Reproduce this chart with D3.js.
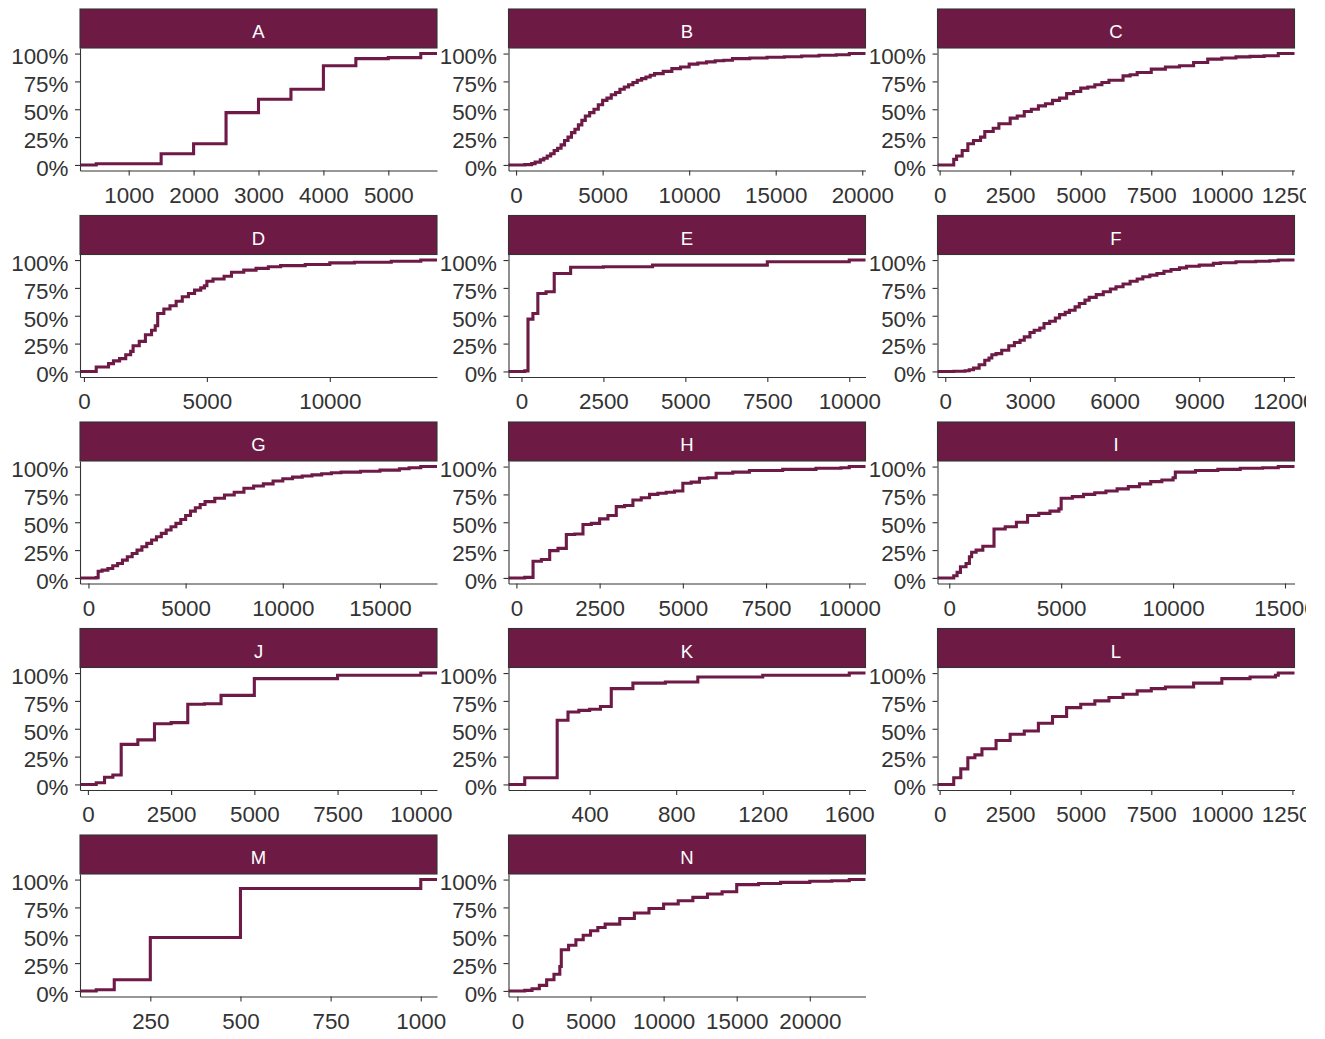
<!DOCTYPE html>
<html>
<head>
<meta charset="utf-8">
<script src="https://cdn.jsdelivr.net/npm/d3@7"></script>
<style>
  body { margin: 0; background: #ffffff; }
  svg { display: block; }
</style>
</head>
<body>
<script>
// Facet labels, in drawing order (3 columns)
const panelNames = ["A","B","C","D","E","F","G","H","I","J","K","L","M","N"];

// Empirical CDF steps per facet: [value, cumulative share after the step]
const ecdfA = [[500,0.01],[1500,0.10],[2000,0.19],[2500,0.47],[3000,0.59],[3500,0.68],[4000,0.89],[4500,0.955],[5000,0.964],[5500,1]];
const ecdfB = [[500,0.003],[900,0.012],[1100,0.025],[1400,0.045],[1600,0.06],[1800,0.08],[2000,0.10],[2200,0.13],[2400,0.15],[2600,0.18],[2800,0.22],[3000,0.25],[3200,0.29],[3400,0.32],[3600,0.36],[3800,0.40],[4000,0.44],[4250,0.47],[4500,0.50],[4750,0.54],[5000,0.58],[5250,0.60],[5500,0.63],[5750,0.65],[6000,0.68],[6250,0.70],[6500,0.72],[6750,0.74],[7000,0.76],[7250,0.775],[7500,0.79],[7750,0.805],[8000,0.82],[8500,0.84],[9000,0.865],[9500,0.88],[10000,0.905],[10500,0.915],[11000,0.925],[11500,0.935],[12000,0.94],[12500,0.955],[13500,0.96],[14500,0.967],[15500,0.972],[16500,0.978],[17500,0.985],[18500,0.99],[19250,1]];
const ecdfC = [[500,0.05],[600,0.08],[800,0.13],[1000,0.19],[1200,0.22],[1450,0.25],[1600,0.30],[1900,0.33],[2100,0.37],[2500,0.42],[2750,0.44],[3000,0.48],[3250,0.50],[3500,0.53],[3750,0.55],[4000,0.58],[4250,0.60],[4500,0.64],[4750,0.66],[5000,0.69],[5250,0.70],[5500,0.72],[5750,0.74],[6000,0.76],[6500,0.80],[6750,0.81],[7000,0.83],[7500,0.86],[8000,0.88],[8500,0.89],[9000,0.92],[9500,0.95],[10000,0.96],[10500,0.97],[11000,0.975],[11500,0.98],[12000,1]];
const ecdfD = [[500,0.04],[1000,0.07],[1200,0.095],[1450,0.115],[1700,0.15],[1900,0.18],[2000,0.23],[2250,0.27],[2500,0.33],[2750,0.37],[2900,0.41],[3000,0.52],[3250,0.56],[3500,0.59],[3750,0.63],[4000,0.67],[4250,0.70],[4500,0.73],[4750,0.75],[4900,0.77],[5000,0.81],[5250,0.83],[5700,0.855],[6000,0.89],[6500,0.91],[7000,0.925],[7500,0.94],[8000,0.95],[9000,0.96],[10000,0.975],[11000,0.98],[12500,0.99],[13700,1]];
const ecdfE = [[100,0.005],[200,0.47],[350,0.52],[500,0.70],[750,0.715],[1000,0.88],[1500,0.935],[2500,0.94],[4000,0.955],[7500,0.985],[10000,1]];
const ecdfF = [[300,0.002],[700,0.006],[850,0.015],[1000,0.03],[1200,0.06],[1400,0.10],[1550,0.12],[1650,0.15],[1800,0.16],[2000,0.19],[2250,0.23],[2450,0.26],[2650,0.28],[2800,0.31],[3000,0.35],[3150,0.37],[3350,0.39],[3500,0.43],[3700,0.45],[3900,0.48],[4050,0.51],[4250,0.53],[4400,0.55],[4600,0.58],[4750,0.61],[4950,0.64],[5100,0.665],[5350,0.69],[5600,0.715],[5850,0.74],[6050,0.76],[6300,0.785],[6550,0.81],[6800,0.83],[7000,0.85],[7250,0.865],[7500,0.88],[7750,0.90],[8000,0.915],[8300,0.93],[8550,0.945],[9000,0.955],[9500,0.97],[9750,0.976],[10300,0.985],[11000,0.99],[11500,0.994],[11800,1]];
const ecdfG = [[400,0.003],[500,0.06],[700,0.07],[1000,0.085],[1250,0.11],[1500,0.13],[1750,0.16],[2000,0.19],[2250,0.22],[2500,0.25],[2750,0.28],[3000,0.31],[3250,0.34],[3500,0.37],[3750,0.40],[4000,0.43],[4250,0.46],[4500,0.49],[4750,0.525],[5000,0.56],[5250,0.60],[5500,0.63],[5750,0.66],[6000,0.685],[6500,0.715],[7000,0.745],[7500,0.77],[8000,0.805],[8500,0.825],[9000,0.845],[9500,0.87],[10000,0.89],[10500,0.905],[11000,0.915],[11500,0.925],[12000,0.935],[12500,0.945],[13000,0.95],[14000,0.958],[15000,0.968],[16000,0.98],[16500,0.99],[17100,1]];
const ecdfH = [[250,0.005],[500,0.15],[750,0.165],[1000,0.245],[1250,0.265],[1500,0.39],[1750,0.395],[2000,0.48],[2250,0.49],[2500,0.53],[2750,0.56],[3000,0.64],[3250,0.65],[3500,0.70],[3750,0.72],[4000,0.75],[4250,0.76],[4500,0.77],[4750,0.78],[5000,0.85],[5250,0.86],[5500,0.895],[5750,0.90],[6000,0.94],[6500,0.95],[7000,0.965],[8000,0.975],[9000,0.985],[9750,0.99],[10000,1]];
const ecdfI = [[200,0.02],[350,0.05],[500,0.10],[750,0.13],[900,0.19],[1000,0.23],[1200,0.25],[1500,0.285],[2000,0.44],[2500,0.46],[3000,0.50],[3500,0.56],[4000,0.58],[4500,0.60],[4900,0.62],[5000,0.715],[5500,0.73],[6000,0.75],[6500,0.765],[7000,0.78],[7500,0.80],[8000,0.82],[8500,0.845],[9000,0.865],[9500,0.88],[10000,0.90],[10100,0.95],[11000,0.965],[12000,0.975],[13000,0.985],[14000,0.99],[14700,1]];
const ecdfJ = [[250,0.015],[500,0.065],[750,0.085],[1000,0.36],[1500,0.40],[2000,0.545],[2500,0.555],[3000,0.72],[3500,0.725],[4000,0.80],[5000,0.95],[7500,0.98],[10000,1]];
const ecdfK = [[100,0.06],[250,0.576],[300,0.65],[350,0.665],[400,0.675],[450,0.70],[500,0.86],[600,0.91],[750,0.92],[900,0.965],[1200,0.98],[1600,1]];
const ecdfL = [[500,0.06],[750,0.14],[1000,0.24],[1250,0.265],[1500,0.32],[2000,0.395],[2500,0.45],[3000,0.48],[3500,0.55],[4000,0.61],[4500,0.69],[5000,0.72],[5500,0.75],[6000,0.78],[6500,0.81],[7000,0.84],[7500,0.86],[8000,0.875],[9000,0.91],[10000,0.95],[11000,0.965],[11900,0.98],[12000,1]];
const ecdfM = [[100,0.01],[150,0.10],[250,0.48],[500,0.92],[1000,1]];
const ecdfN = [[500,0.005],[1000,0.02],[1500,0.05],[2000,0.10],[2500,0.15],[2900,0.22],[3000,0.37],[3500,0.41],[4000,0.46],[4500,0.50],[5000,0.54],[5500,0.57],[6000,0.60],[7000,0.65],[8000,0.70],[9000,0.74],[10000,0.78],[11000,0.81],[12000,0.84],[13000,0.87],[14000,0.89],[15000,0.955],[16500,0.965],[18000,0.975],[20000,0.985],[21500,0.99],[22700,1]];

// Horizontal tick values per facet (free x scales)
const xTicksA = [1000,2000,3000,4000,5000];
const xTicksB = [0,5000,10000,15000,20000];
const xTicksC = [0,2500,5000,7500,10000,12500];
const xTicksD = [0,5000,10000];
const xTicksE = [0,2500,5000,7500,10000];
const xTicksF = [0,3000,6000,9000,12000];
const xTicksG = [0,5000,10000,15000];
const xTicksH = [0,2500,5000,7500,10000];
const xTicksI = [0,5000,10000,15000];
const xTicksJ = [0,2500,5000,7500,10000];
const xTicksK = [400,800,1200,1600];
const xTicksL = [0,2500,5000,7500,10000,12500];
const xTicksM = [250,500,750,1000];
const xTicksN = [0,5000,10000,15000,20000];

// Shared vertical ticks (shares)
const yTicks = [0, 0.25, 0.5, 0.75, 1];

const stepSets = [ecdfA,ecdfB,ecdfC,ecdfD,ecdfE,ecdfF,ecdfG,ecdfH,ecdfI,ecdfJ,ecdfK,ecdfL,ecdfM,ecdfN];
const tickSets = [xTicksA,xTicksB,xTicksC,xTicksD,xTicksE,xTicksF,xTicksG,xTicksH,xTicksI,xTicksJ,xTicksK,xTicksL,xTicksM,xTicksN];

const W = 1325, H = 1039;
const colX = [80, 508.5, 937.5];
const panelW = 357;
const rowTop = [9, 215.5, 422, 628.5, 835];
const stripH = 39, plotH = 122.5;

const maroon = "#6d1b45";
const lineCol = "#6e1a46";
const inkCol = "#333333";
const fontFam = "'Liberation Sans', Arial, Helvetica, sans-serif";
const tickFont = "22.4px";

const svg = d3.select("body").append("svg")
  .attr("width", W).attr("height", H);

svg.append("defs").append("clipPath").attr("id", "page")
  .append("rect").attr("x", 0).attr("y", 0).attr("width", 1306).attr("height", H);

const root = svg.append("g").attr("clip-path", "url(#page)");

panelNames.forEach((name, i) => {
  const col = i % 3, row = Math.floor(i / 3);
  const x0 = colX[col];
  const sTop = rowTop[row];
  const pTop = sTop + stripH;
  const pBot = pTop + plotH;
  const steps = stepSets[i];

  // ggplot-like 5% expansion of the data range
  const lo = d3.min(steps, d => d[0]);
  const hi = d3.max(steps, d => d[0]);
  const pad = (hi - lo) * 0.05;
  const x = d3.scaleLinear().domain([lo - pad, hi + pad]).range([x0, x0 + panelW]);
  const y = d3.scaleLinear().domain([-0.05, 1.05]).range([pBot, pTop]);

  const g = root.append("g");

  // ECDF step line, padded to both panel edges
  const pts = [[lo - pad, 0]].concat(steps).concat([[hi + pad, 1]]);
  const line = d3.line()
    .x(d => x(d[0]))
    .y(d => y(d[1]))
    .curve(d3.curveStepAfter);
  g.append("path")
    .attr("d", line(pts))
    .attr("fill", "none")
    .attr("stroke", lineCol)
    .attr("stroke-width", 3.1)
    .attr("stroke-linejoin", "miter");

  // Axes
  const yAxis = d3.axisLeft(y)
    .tickValues(yTicks)
    .tickFormat(d3.format(".0%"))
    .tickSize(5).tickSizeOuter(0).tickPadding(6.5);
  const ya = g.append("g").attr("transform", `translate(${x0},0)`).call(yAxis);

  const xAxis = d3.axisBottom(x)
    .tickValues(tickSets[i])
    .tickFormat(d3.format("d"))
    .tickSize(5).tickSizeOuter(0).tickPadding(12.5);
  const xa = g.append("g").attr("transform", `translate(0,${pBot})`).call(xAxis);

  [ya, xa].forEach(a => {
    a.select(".domain").attr("stroke", inkCol).attr("stroke-width", 1.1);
    a.selectAll(".tick line").attr("stroke", inkCol).attr("stroke-width", 1.1);
    a.selectAll(".tick text")
      .attr("fill", inkCol)
      .style("font-family", fontFam)
      .style("font-size", tickFont);
  });
  ya.selectAll(".tick text").attr("dy", "0.46em");
  xa.selectAll(".tick text").attr("dy", "0.66em");

  // Facet strip
  g.append("rect")
    .attr("x", x0).attr("y", sTop)
    .attr("width", panelW).attr("height", stripH)
    .attr("fill", maroon)
    .attr("stroke", inkCol).attr("stroke-width", 1.1);
  g.append("text")
    .attr("x", x0 + panelW / 2)
    .attr("y", sTop + 29.3)
    .attr("text-anchor", "middle")
    .attr("fill", "#ffffff")
    .style("font-family", fontFam)
    .style("font-size", "18.5px")
    .text(name);
});
</script>
</body>
</html>
